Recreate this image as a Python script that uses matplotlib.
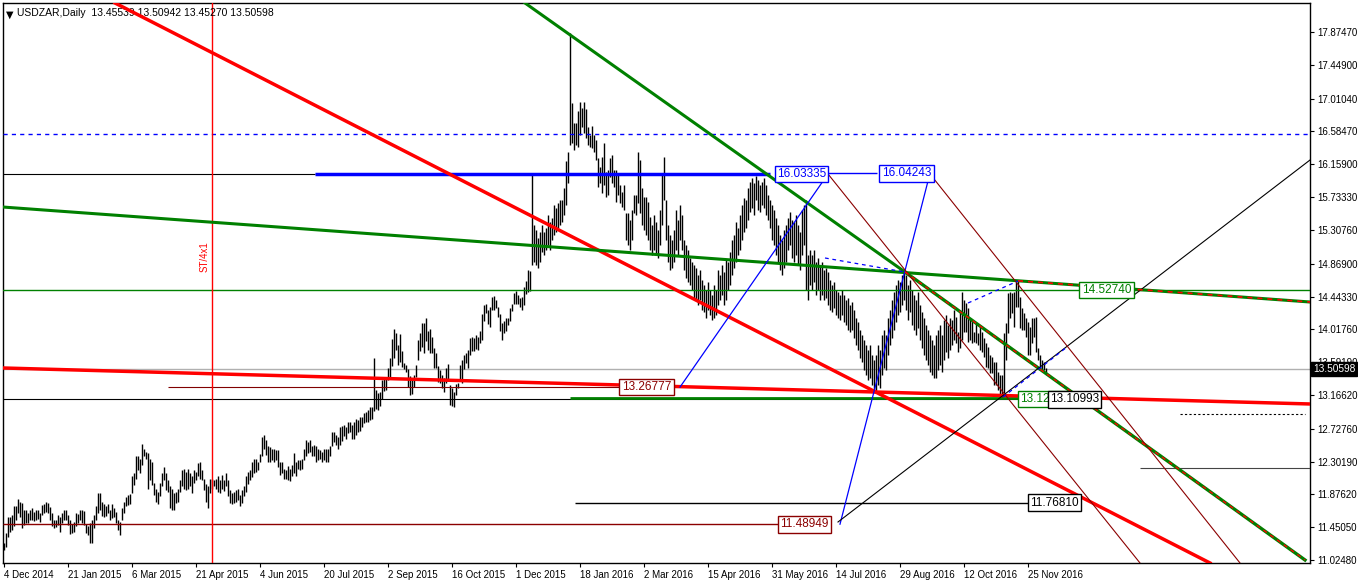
import numpy as np
import matplotlib.pyplot as plt
from matplotlib.transforms import blended_transform_factory

plt.rcParams['font.family'] = ['Liberation Sans', 'DejaVu Sans']

# daily bars, 4 Dec 2014 .. 8 Dec 2016
bar_high = [
    11.25, 11.38, 11.58, 11.58, 11.61, 11.72, 11.73, 11.81, 11.78, 11.77,
    11.67, 11.67, 11.63, 11.67, 11.70, 11.65, 11.67, 11.67, 11.63, 11.74,
    11.75, 11.78, 11.76, 11.71, 11.63, 11.55, 11.55, 11.61, 11.58, 11.63,
    11.68, 11.67, 11.61, 11.55, 11.49, 11.52, 11.63, 11.62, 11.68, 11.68,
    11.66, 11.49, 11.46, 11.50, 11.55, 11.61, 11.72, 11.89, 11.89, 11.78,
    11.75, 11.72, 11.75, 11.68, 11.75, 11.70, 11.65, 11.54, 11.52, 11.70,
    11.78, 11.84, 11.87, 11.88, 12.11, 12.15, 12.37, 12.37, 12.34, 12.53,
    12.47, 12.43, 12.41, 12.34, 12.30, 12.02, 11.95, 11.91, 12.02, 12.16,
    12.23, 12.16, 12.06, 11.98, 11.95, 11.89, 11.91, 11.95, 12.06, 12.19,
    12.21, 12.17, 12.21, 12.16, 12.11, 12.19, 12.17, 12.28, 12.30, 12.19,
    12.08, 12.01, 11.98, 12.08, 12.07, 12.06, 12.08, 12.11, 12.06, 12.13,
    12.06, 12.15, 12.06, 11.93, 11.89, 11.91, 11.93, 11.95, 11.87, 11.93,
    11.98, 12.11, 12.17, 12.19, 12.29, 12.34, 12.34, 12.29, 12.40, 12.62,
    12.65, 12.58, 12.50, 12.49, 12.46, 12.47, 12.45, 12.45, 12.30, 12.29,
    12.21, 12.19, 12.24, 12.21, 12.26, 12.41, 12.29, 12.32, 12.32, 12.34,
    12.47, 12.58, 12.55, 12.58, 12.50, 12.52, 12.50, 12.47, 12.45, 12.43,
    12.47, 12.47, 12.47, 12.50, 12.69, 12.69, 12.65, 12.62, 12.75, 12.76,
    12.78, 12.75, 12.82, 12.81, 12.78, 12.82, 12.86, 12.84, 12.88, 12.88,
    12.93, 12.95, 12.97, 13.01, 13.01, 13.65, 13.23, 13.19, 13.20, 13.36,
    13.37, 13.40, 13.51, 13.64, 13.89, 14.02, 13.97, 13.81, 13.96, 13.73,
    13.58, 13.55, 13.50, 13.41, 13.39, 13.42, 13.55, 13.88, 13.97, 14.10,
    14.10, 14.16, 13.99, 14.02, 13.92, 13.77, 13.71, 13.54, 13.49, 13.42,
    13.38, 13.51, 13.57, 13.30, 13.25, 13.21, 13.31, 13.32, 13.55, 13.62,
    13.68, 13.71, 13.75, 13.90, 13.92, 13.90, 13.94, 13.92, 13.99, 14.22,
    14.33, 14.35, 14.27, 14.31, 14.44, 14.45, 14.40, 14.31, 14.22, 14.10,
    14.12, 14.16, 14.16, 14.29, 14.35, 14.49, 14.51, 14.46, 14.42, 14.44,
    14.57, 14.64, 14.79, 14.78, 16.03,
    15.37, 15.31, 15.20, 15.28, 15.37, 15.28, 15.33, 15.50, 15.41, 15.46,
    15.63, 15.59, 15.66, 15.70, 15.70, 15.85, 16.20, 16.32, 17.86, 16.95,
    16.69, 16.69, 16.85, 16.97, 16.89, 16.97, 16.88, 16.64, 16.54, 16.66,
    16.54, 16.47, 16.24, 16.12, 16.25, 16.44, 16.06, 16.08, 16.24, 16.28,
    16.08, 16.08, 16.05, 15.89, 15.80, 15.89, 15.53, 15.53, 15.44, 15.57,
    15.76, 15.76, 16.32, 16.21, 15.85, 15.73, 15.73, 15.67, 15.48, 15.37,
    15.50, 15.41, 15.31, 15.57, 16.05, 16.25, 15.70, 15.37, 15.24, 15.18,
    15.31, 15.57, 15.44, 15.63, 15.50, 15.18, 15.11, 15.05, 14.94, 14.89,
    14.85, 14.81, 14.72, 14.79, 14.66, 14.59, 14.53, 14.63, 14.53, 14.46,
    14.59, 14.53, 14.79, 14.72, 14.85, 14.76, 14.92, 14.89, 15.02, 15.18,
    15.24, 15.41, 15.33, 15.50, 15.63, 15.72, 15.70, 15.85, 15.93, 15.98,
    15.92, 16.01, 15.96, 15.89, 15.93, 15.98, 15.89, 15.76, 15.70, 15.63,
    15.57, 15.46, 15.37, 15.24, 15.18, 15.31, 15.37, 15.46, 15.54, 15.44,
    15.41, 15.50, 15.37, 15.28, 15.57, 15.63, 15.70, 14.98, 15.05, 14.98,
    15.05, 14.89, 14.94, 14.85, 14.89, 14.79, 14.81, 14.76, 14.66, 14.59,
    14.63, 14.53, 14.50, 14.46, 14.53, 14.46, 14.40, 14.42, 14.33, 14.37,
    14.27, 14.16, 14.11, 14.01, 13.94, 13.88, 13.81, 13.75, 13.81, 13.68,
    13.62, 13.68, 13.81, 13.75, 13.94, 14.01, 13.94, 14.16, 14.27, 14.40,
    14.50, 14.59, 14.66, 14.63, 14.72, 14.79, 14.72, 14.59, 14.66, 14.53,
    14.46, 14.40, 14.50, 14.33, 14.24, 14.16, 14.07, 14.01, 13.94, 13.88,
    13.81, 13.94, 14.01, 14.07, 13.94, 14.14, 14.20, 14.07, 14.16, 14.14,
    14.27, 14.18, 13.98, 14.27, 14.50, 14.40, 14.36, 14.29, 14.16, 14.14,
    13.98, 14.10, 13.97, 14.05, 13.98, 13.90, 13.84, 13.79, 13.68, 13.66,
    13.59, 13.59, 13.46, 13.43, 13.43, 13.97, 14.10, 14.49, 14.50, 14.49,
    14.50, 14.63, 14.66, 14.44, 14.29, 14.23, 14.16, 14.11, 14.05, 14.16,
    14.16, 14.18, 13.78, 13.68, 13.62, 13.59, 13.50942]
bar_low = [
    11.16, 11.20, 11.32, 11.39, 11.42, 11.46, 11.54, 11.63, 11.58, 11.44,
    11.48, 11.50, 11.51, 11.55, 11.54, 11.53, 11.54, 11.56, 11.52, 11.61,
    11.63, 11.65, 11.63, 11.55, 11.46, 11.44, 11.45, 11.48, 11.39, 11.50,
    11.54, 11.54, 11.48, 11.36, 11.37, 11.39, 11.46, 11.51, 11.54, 11.50,
    11.48, 11.37, 11.35, 11.25, 11.25, 11.44, 11.54, 11.63, 11.67, 11.59,
    11.58, 11.59, 11.63, 11.55, 11.57, 11.58, 11.50, 11.42, 11.35, 11.54,
    11.63, 11.72, 11.74, 11.75, 11.89, 12.00, 12.08, 12.19, 12.15, 12.26,
    12.37, 12.34, 11.94, 12.06, 12.00, 11.87, 11.78, 11.75, 11.85, 11.98,
    12.06, 11.93, 11.91, 11.70, 11.67, 11.68, 11.76, 11.78, 11.91, 11.98,
    11.95, 11.93, 11.95, 11.98, 11.89, 12.02, 12.06, 12.11, 12.08, 12.06,
    11.93, 11.78, 11.70, 11.89, 11.95, 11.98, 11.94, 11.91, 11.89, 11.95,
    11.92, 11.98, 11.85, 11.77, 11.75, 11.77, 11.78, 11.80, 11.73, 11.76,
    11.86, 11.91, 12.01, 12.06, 12.10, 12.15, 12.17, 12.19, 12.29, 12.37,
    12.47, 12.39, 12.29, 12.30, 12.32, 12.30, 12.32, 12.23, 12.13, 12.15,
    12.07, 12.08, 12.06, 12.05, 12.11, 12.15, 12.11, 12.20, 12.19, 12.20,
    12.32, 12.37, 12.41, 12.43, 12.37, 12.37, 12.30, 12.32, 12.33, 12.30,
    12.32, 12.29, 12.30, 12.37, 12.50, 12.56, 12.52, 12.47, 12.52, 12.57,
    12.63, 12.60, 12.67, 12.69, 12.59, 12.60, 12.65, 12.68, 12.70, 12.75,
    12.80, 12.82, 12.82, 12.84, 12.86, 12.96, 12.98, 12.97, 13.02, 13.11,
    13.22, 13.23, 13.36, 13.38, 13.54, 13.64, 13.75, 13.55, 13.60, 13.53,
    13.50, 13.47, 13.27, 13.17, 13.18, 13.27, 13.40, 13.62, 13.73, 13.79,
    13.71, 13.86, 13.75, 13.71, 13.71, 13.51, 13.51, 13.34, 13.32, 13.25,
    13.21, 13.32, 13.36, 13.04, 13.02, 13.01, 13.17, 13.25, 13.36, 13.32,
    13.50, 13.58, 13.51, 13.68, 13.73, 13.73, 13.76, 13.75, 13.84, 13.88,
    14.12, 14.23, 14.09, 14.05, 14.27, 14.27, 14.29, 14.18, 13.99, 13.88,
    13.97, 13.99, 14.07, 14.12, 14.25, 14.35, 14.35, 14.35, 14.31, 14.27,
    14.33, 14.48, 14.50, 14.52, 14.85,
    14.89, 14.85, 14.81, 14.89, 15.02, 14.98, 15.05, 15.11, 15.05, 15.18,
    15.24, 15.28, 15.33, 15.37, 15.41, 15.50, 15.63, 15.92, 16.41, 16.44,
    16.34, 16.41, 16.38, 16.54, 16.64, 16.57, 16.50, 16.41, 16.38, 16.37,
    16.32, 16.21, 15.86, 15.92, 15.79, 15.89, 15.73, 15.76, 15.99, 15.92,
    15.86, 15.67, 15.76, 15.66, 15.61, 15.57, 15.18, 15.11, 15.05, 15.18,
    15.53, 15.50, 15.66, 15.53, 15.37, 15.31, 15.24, 15.18, 15.05, 14.98,
    15.05, 14.98, 14.94, 15.11, 15.37, 15.70, 15.18, 14.89, 14.79, 14.81,
    14.89, 15.05, 14.98, 15.18, 15.05, 14.79, 14.68, 14.63, 14.59, 14.53,
    14.42, 14.40, 14.33, 14.40, 14.27, 14.24, 14.16, 14.27, 14.20, 14.14,
    14.16, 14.20, 14.33, 14.40, 14.46, 14.33, 14.40, 14.53, 14.59, 14.72,
    14.81, 14.89, 14.98, 15.05, 15.18, 15.28, 15.33, 15.44, 15.54, 15.59,
    15.50, 15.70, 15.57, 15.54, 15.63, 15.59, 15.50, 15.44, 15.33, 15.18,
    15.11, 14.98, 14.89, 14.79, 14.72, 14.81, 14.89, 15.05, 15.11, 14.94,
    14.89, 14.98, 14.85, 14.79, 14.98, 15.11, 14.53, 14.40, 14.59, 14.53,
    14.63, 14.46, 14.53, 14.40, 14.46, 14.40, 14.42, 14.33, 14.27, 14.24,
    14.29, 14.20, 14.16, 14.14, 14.20, 14.11, 14.07, 14.01, 13.98, 14.01,
    13.90, 13.81, 13.75, 13.65, 13.59, 13.49, 13.43, 13.36, 13.39, 13.30,
    13.23, 13.20, 13.30, 13.26, 13.43, 13.52, 13.49, 13.68, 13.81, 13.90,
    14.01, 14.11, 14.20, 14.24, 14.33, 14.40, 14.27, 14.14, 14.24, 14.07,
    14.01, 13.94, 14.03, 13.88, 13.78, 13.68, 13.62, 13.55, 13.46, 13.43,
    13.39, 13.39, 13.49, 13.55, 13.46, 13.62, 13.72, 13.65, 13.75, 13.81,
    13.88, 13.84, 13.72, 13.78, 13.88, 13.98, 13.98, 13.85, 13.88, 13.84,
    13.85, 13.84, 13.81, 13.75, 13.72, 13.66, 13.53, 13.52, 13.45, 13.45,
    13.30, 13.30, 13.23, 13.15, 13.11, 13.19, 13.62, 13.97, 14.16, 14.23,
    14.05, 14.31, 14.31, 14.03, 14.01, 14.01, 13.92, 13.68, 13.68, 13.84,
    13.92, 13.72, 13.62, 13.53, 13.48, 13.49, 13.45270]
bar_idx = np.arange(len(bar_high))

date_ticks = [0, 32, 64, 96, 128, 160, 192, 224, 256, 288, 320, 352, 384, 416, 448, 480, 512]
date_labels = ['4 Dec 2014', '21 Jan 2015', '6 Mar 2015', '21 Apr 2015', '4 Jun 2015',
               '20 Jul 2015', '2 Sep 2015', '16 Oct 2015', '1 Dec 2015', '18 Jan 2016',
               '2 Mar 2016', '15 Apr 2016', '31 May 2016', '14 Jul 2016', '29 Aug 2016',
               '12 Oct 2016', '25 Nov 2016']
price_ticks = [17.87470, 17.44900, 17.01040, 16.58470, 16.15900, 15.73330, 15.30760,
               14.86900, 14.44330, 14.01760, 13.59190, 13.16620, 12.72760, 12.30190,
               11.87620, 11.45050, 11.02480]
last_price = 13.50598

# trend lines: (x0, y0, x1, y1) in bar index / price
red_down = (55.75, 18.251, 603.25, 10.986)
red_flat = (-0.25, 13.516, 653.25, 13.049)
green_long = (-0.25, 15.604, 653.25, 14.372)
green_steep = (260.75, 18.251, 450.75, 14.761)
green_steep_ext = (450.75, 14.761, 650.75, 11.025)
blue_leg1 = (338.25, 13.26777, 412.25, 16.03335)
blue_leg2 = (418.25, 11.48949, 463.25, 16.04243)
blue_dash1 = (410.75, 14.943, 450.75, 14.761)
blue_dash2 = (482.25, 14.359, 507.25, 14.644)
blue_dash3 = (499.75, 13.139, 531.75, 13.788)
black_rise = (417.25, 11.518, 653.25, 16.214)
darkred_1 = (412.25, 16.033, 568.25, 10.986)
darkred_2 = (463.25, 16.033, 618.25, 10.986)

fig = plt.figure(figsize=(13.58, 5.84), dpi=100)
ax = fig.add_axes([3 / 1358, 21 / 584, 1307 / 1358, 560 / 584])
ax.set_xlim(-0.25, 653.25)
ax.set_ylim(10.986, 18.251)

# price bars
ax.vlines(bar_idx, bar_low, bar_high, color='black', lw=1, zorder=2)


def seg(line, **kw):
    ax.plot([line[0], line[2]], [line[1], line[3]], **kw)


# horizontal levels
ax.axhline(16.551, color='blue', lw=1, ls=(0, (3, 3)), zorder=3)
ax.axhline(14.5274, color='green', lw=1, zorder=3)
ax.axhline(last_price, color='#b0b0b0', lw=1, zorder=1)
ax.hlines(16.03335, -0.25, 155.75, color='black', lw=0.8, zorder=3)
ax.hlines(16.03335, 155.75, 383.25, color='blue', lw=2.5, zorder=3)
ax.hlines(16.04, 412.25, 436.75, color='blue', lw=1, zorder=3)
ax.hlines(13.10993, -0.25, 524.75, color='black', lw=0.8, zorder=3)
ax.hlines(13.126, 283.25, 511.25, color='green', lw=2, zorder=3)
ax.hlines(13.26777, 82.25, 309.75, color='#800000', lw=0.8, zorder=3)
ax.hlines(11.48949, -0.25, 388.25, color='#8b0000', lw=1, zorder=3)
ax.hlines(11.7681, 285.75, 514.25, color='black', lw=1, zorder=3)
ax.hlines(12.919, 588.25, 650.75, color='black', lw=0.8, ls=(0, (2, 2)), zorder=3)
ax.hlines(12.218, 568.25, 653.25, color='#444444', lw=0.8, zorder=3)
ax.axvline(104.25, color='red', lw=1, zorder=3)

# trend lines
seg(red_down, color='red', lw=2.5, zorder=4)
seg(red_flat, color='red', lw=2.5, zorder=4)
seg(green_long, color='green', lw=2.2, zorder=4)
ax.plot([507.25, 653.25], [14.647, 14.372], color='red', lw=1.2, ls=(0, (3, 3)), zorder=5)
seg(green_steep, color='green', lw=2.2, zorder=4)
seg(green_steep_ext, color='green', lw=2.4, zorder=4)
seg(green_steep_ext, color='red', lw=1, ls=(0, (3, 3)), zorder=5)
seg(blue_leg1, color='blue', lw=0.9, zorder=4)
seg(blue_leg2, color='blue', lw=0.9, zorder=4)
seg(black_rise, color='black', lw=0.8, zorder=4)
for d in (blue_dash1, blue_dash2, blue_dash3):
    seg(d, color='blue', lw=0.9, ls=(0, (3, 3)), zorder=5)
seg(darkred_1, color='#8b0000', lw=0.8, zorder=4)
seg(darkred_2, color='#8b0000', lw=0.8, zorder=4)


# price labels
def plabel(x, y, s, col, tcol=None):
    ax.text(x, y, s, color=tcol or col, fontsize=8.5, ha='center', va='center', zorder=6,
            bbox=dict(boxstyle='square,pad=0.2', fc='white', ec=col, lw=1))


plabel(399, 16.03335, '16.03335', 'blue')
plabel(451.5, 16.04243, '16.04243', 'blue')
plabel(551.5, 14.5274, '14.52740', 'green')
plabel(321.5, 13.26777, '13.26777', '#8b0000')
plabel(520.5, 13.115, '13.12620', 'green')
plabel(535.5, 13.10993, '13.10993', 'black')
plabel(400.5, 11.48949, '11.48949', '#8b0000')
plabel(525.5, 11.7681, '11.76810', 'black')

ax.text(100.75, 14.956, 'ST/4x1', color='red', fontsize=7, rotation=90,
        ha='center', va='center', zorder=6)

# axes styling
ax.yaxis.tick_right()
ax.set_yticks(price_ticks)
ax.set_yticklabels(['%.5f' % p for p in price_ticks], fontsize=7)
ax.set_xticks(date_ticks)
ax.set_xticklabels(date_labels, fontsize=7, ha='left')
ax.tick_params(axis='both', length=3, width=0.8, color='black', pad=2)
for s in ax.spines.values():
    s.set_linewidth(1)

tr = blended_transform_factory(ax.transAxes, ax.transData)
ax.text(1.0025, last_price, '%.5f' % last_price, transform=tr, color='white', fontsize=7.3,
        ha='left', va='center', zorder=7,
        bbox=dict(boxstyle='square,pad=0.18', fc='black', ec='black'))

ax.text(0.002, 0.988, '\u25bc', transform=ax.transAxes, fontsize=7, va='top', ha='left',
        family='DejaVu Sans')
ax.text(0.011, 0.991, 'USDZAR,Daily  13.45539 13.50942 13.45270 13.50598',
        transform=ax.transAxes, fontsize=7.5, va='top', ha='left')

fig.savefig('out.png', dpi=100)
